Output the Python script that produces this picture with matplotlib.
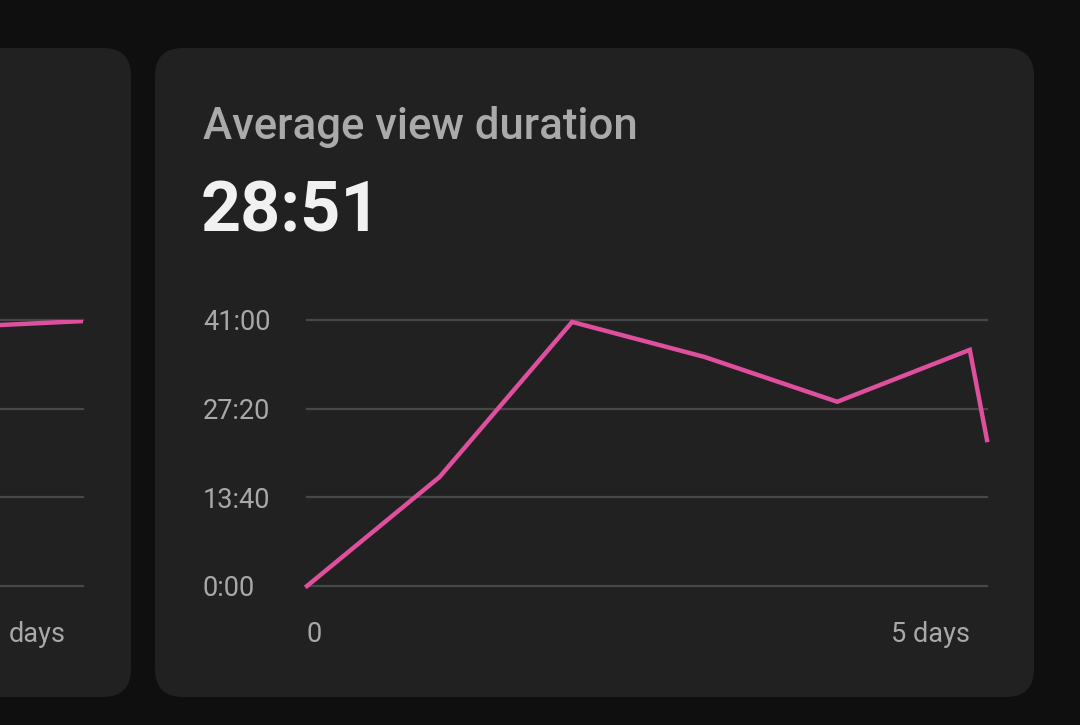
import matplotlib
matplotlib.use('Agg')
import matplotlib.pyplot as plt
from matplotlib.patches import FancyBboxPatch

# data
days = [0, 1, 2, 3, 4, 5, 5.13]
avg_minutes = [0, 16.8, 40.7, 35.3, 28.4, 36.4, 22.5]
ytick_minutes = [0, 13 + 40/60, 27 + 20/60, 41]
ytick_labels = ['0:00', '13:40', '27:20', '41:00']
xtick_days = [0, 5]
xtick_labels = ['0', '5 days']

# neighbouring card (mostly cut off), scaled to its own top gridline = 1
left_days = [4.0, 4.5, 5.13]
left_values = [0.97, 0.981, 0.996]
left_yticks = [0, 1/3, 2/3, 1]
left_xtick_labels = ['', 'days']

title = 'Average view duration'
headline = '28:51'

BG = '#0f0f0f'
CARD = '#212121'
GRID = '#474747'
PINK = '#de4f9e'
MUTED = '#aaaaaa'

W, H = 1080, 725
fig = plt.figure(figsize=(W / 100, H / 100), dpi=100, facecolor=BG)


def px(x0, y0, x1, y1):
    # image pixel box (top-left origin) -> figure fraction rect
    return [x0 / W, 1 - y1 / H, (x1 - x0) / W, (y1 - y0) / H]


for x0, x1 in [(-60, 131), (155, 1034)]:
    card = FancyBboxPatch((x0, H - 697), x1 - x0, 649,
                          boxstyle='round,pad=0,rounding_size=28',
                          transform=None, facecolor=CARD, edgecolor='none',
                          zorder=-5)
    fig.add_artist(card)

tick_font = dict(family='Roboto', size=19.5, color='#a8a8a8')


def style_axes(ax, yticks, xlabels):
    ax.set_facecolor('none')
    for s in ax.spines.values():
        s.set_visible(False)
    for y in yticks:
        ax.axhline(y, color=GRID, lw=1.6, clip_on=False, zorder=1)
    ax.set_xlim(0, 5.13)
    ax.set_xticks(xtick_days, xlabels, **tick_font)
    ax.tick_params(axis='x', length=0, pad=25)
    labs = ax.get_xticklabels()
    labs[0].set_horizontalalignment('left')
    labs[1].set_horizontalalignment('right')


# main card chart
ax = fig.add_axes(px(307, 320, 987, 586))
style_axes(ax, ytick_minutes, xtick_labels)
ax.plot(days, avg_minutes, color=PINK, lw=3.2, solid_joinstyle='miter',
        zorder=3, clip_on=False)
ax.set_ylim(0, 41)
ax.set_yticks(ytick_minutes, ytick_labels, **tick_font)
ax.tick_params(axis='y', length=0, pad=75)
for lab in ax.get_yticklabels():
    lab.set_horizontalalignment('left')

# left card chart
ax2 = fig.add_axes(px(83 - 680, 320, 83, 586))
style_axes(ax2, left_yticks, left_xtick_labels)
ax2.plot(left_days, left_values, color=PINK, lw=3.2, zorder=3)
ax2.set_ylim(0, 1)
ax2.set_yticks([])

fig.text(203 / W, 1 - 139 / H, title, family='Roboto', weight='medium',
         size=31.5, color=MUTED, va='baseline', ha='left')
fig.text(201 / W, 1 - 231 / H, headline, family='Roboto', weight='bold',
         size=50.5, color='#f1f1f1', va='baseline', ha='left')

fig.savefig('out.png', dpi=100, facecolor=BG)
